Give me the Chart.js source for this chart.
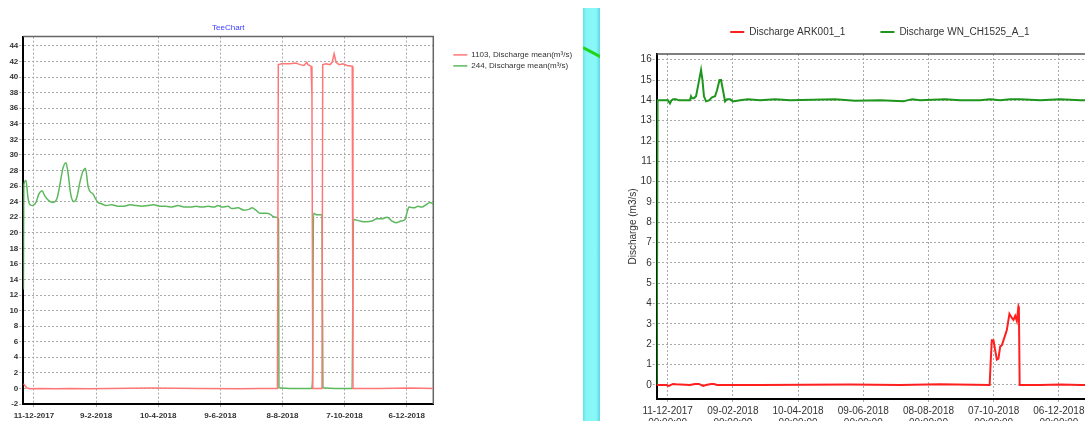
<!DOCTYPE html>
<html>
<head>
<meta charset="utf-8">
<title>Discharge</title>
<script src="https://cdn.jsdelivr.net/npm/chart.js@4.4.1/dist/chart.umd.min.js"></script>
<style>
  html, body { margin: 0; padding: 0; background: #fff; width: 1085px; height: 421px; overflow: hidden; }
  #teeChart { position: absolute; left: 0; top: 0; }
  #dischargeChart { position: absolute; left: 600px; top: -8px; }
  .strip {
    position: absolute; left: 583px; top: 8px; width: 17px; height: 413px; overflow: hidden;
    background: linear-gradient(to right, #62e2e8 0px, #86f5f6 3px, #8bf8f8 13px, #5ed6e0 17px);
  }
  .strip-line {
    position: absolute; left: 0; top: 38px; width: 24px; height: 3px; background: #1fd61f;
    transform-origin: 0 50%; transform: rotate(28deg);
  }
</style>
</head>
<body>
<canvas id="teeChart" width="583" height="421"></canvas>
<div class="strip"><div class="strip-line"></div></div>
<canvas id="dischargeChart" width="505" height="450"></canvas>
<script>
// x values are days counted from 11-12-2017
const tickDays = [0, 60, 120, 180, 240, 300, 360];
const teeTickLabels = ['11-12-2017', '9-2-2018', '10-4-2018', '9-6-2018', '8-8-2018', '7-10-2018', '6-12-2018'];
const dischargeTickLabels = ['11-12-2017', '09-02-2018', '10-04-2018', '09-06-2018', '08-08-2018', '07-10-2018', '06-12-2018'];
const tickTime = '00:00:00';

// station 1103
const s1103Days = [-10.2, -6.8, -3.9, 5.8, 20.3, 34.8, 54.1, 73.4, 112.0, 160.3, 199.0, 218.3, 235.2, 236.0, 239.5, 247.3, 253.1, 256.9, 260.8, 263.4, 264.7, 267.6, 268.5, 269.3, 278.2, 278.9, 282.2, 286.0, 288.0, 289.9, 291.8, 294.7, 298.5, 302.4, 307.4, 308.1, 334.2, 363.2, 385.7];
const s1103Values = [0.6, 0.05, -0.05, 0.0, -0.05, 0.0, -0.05, 0.0, 0.05, 0.0, -0.05, 0.0, 0.0, 41.6, 41.7, 41.7, 41.8, 41.6, 41.5, 41.9, 41.6, 41.4, 37.7, 0.0, 0.0, 41.6, 41.7, 41.6, 41.9, 43.0, 41.9, 41.6, 41.7, 41.5, 41.4, 0.0, 0.0, 0.05, 0.0];

// station 244
const s244Days = [-10.2, -9.8, -7.7, -5.8, -3.9, -1.0, 1.9, 4.8, 7.7, 10.6, 14.5, 18.4, 22.2, 25.1, 28.0, 30.9, 32.8, 35.7, 38.6, 41.5, 44.4, 47.3, 49.7, 52.2, 54.1, 57.0, 58.9, 61.8, 65.7, 69.5, 75.3, 81.1, 86.9, 92.7, 98.5, 104.3, 110.1, 115.9, 121.7, 127.5, 133.3, 139.1, 144.9, 150.7, 156.5, 162.3, 168.1, 173.9, 177.7, 181.6, 187.4, 191.2, 197.0, 202.8, 207.7, 210.6, 214.4, 218.3, 224.1, 227.9, 230.8, 233.7, 236.2, 236.6, 252.1, 268.0, 269.0, 270.0, 273.3, 277.2, 278.2, 279.1, 295.6, 307.2, 308.6, 314.9, 320.7, 326.5, 331.3, 336.1, 341.0, 345.8, 349.7, 354.5, 358.4, 360.3, 362.2, 367.0, 370.9, 374.8, 378.6, 382.5, 385.7];
const s244Values = [12.7, 26.2, 26.7, 24.5, 23.6, 23.5, 23.9, 25.0, 25.4, 24.7, 24.1, 23.9, 24.4, 26.2, 28.3, 29.0, 27.8, 24.8, 24.0, 24.6, 26.5, 27.9, 28.3, 26.0, 25.3, 25.0, 24.5, 23.9, 23.7, 23.5, 23.6, 23.4, 23.4, 23.6, 23.5, 23.4, 23.5, 23.6, 23.4, 23.4, 23.3, 23.5, 23.3, 23.3, 23.4, 23.3, 23.4, 23.3, 23.5, 23.3, 23.4, 23.1, 23.2, 22.9, 23.0, 23.2, 22.9, 22.5, 22.5, 22.4, 22.1, 22.0, 21.8, 0.1, 0.0, 0.0, 1.0, 22.5, 22.3, 22.3, 22.2, 0.1, 0.0, 0.0, 21.7, 21.5, 21.4, 21.5, 21.8, 21.8, 22.0, 21.5, 21.3, 21.5, 21.7, 22.6, 23.3, 23.2, 23.4, 23.3, 23.6, 23.9, 23.7];

// ARK001_1
const arkDays = [-10.1, -1.6, 1.2, 3.0, 4.9, 7.6, 20.5, 25.1, 28.8, 32.5, 35.3, 39.9, 42.6, 45.4, 85.0, 167.9, 213.9, 250.7, 296.3, 297.2, 298.3, 299.8, 301.4, 302.9, 304.4, 306.0, 307.5, 310.6, 312.1, 313.3, 314.5, 316.7, 318.2, 319.8, 321.3, 322.8, 323.2, 323.9, 342.8, 361.2, 380.0, 400.6];
const arkValues = [0.0, 0.0, -0.05, 0.0, 0.05, 0.03, 0.0, 0.05, 0.05, -0.05, 0.0, 0.05, 0.05, 0.0, 0.0, 0.02, 0.0, 0.03, 0.0, 1.1, 2.2, 2.2, 1.7, 1.25, 1.3, 1.9, 1.95, 2.45, 2.7, 3.1, 3.5, 3.3, 3.2, 3.4, 3.15, 3.86, 3.8, 0.0, 0.0, 0.02, 0.0, 0.0];

// WN_CH1525_A_1
const wnDays = [-10.1, -9.3, 0.3, 2.1, 3.5, 4.9, 7.6, 10.4, 20.5, 21.5, 22.4, 24.2, 26.1, 27.9, 30.7, 32.0, 33.4, 35.3, 38.0, 40.8, 43.6, 45.4, 47.7, 49.1, 50.9, 52.8, 54.6, 57.4, 60.1, 66.6, 73.9, 85.0, 98.8, 112.6, 154.0, 172.5, 195.5, 216.7, 220.4, 225.0, 232.3, 255.3, 269.1, 287.5, 296.7, 306.0, 315.2, 324.4, 342.8, 361.2, 379.6, 400.6];
const wnValues = [0.0, 14.0, 14.0, 13.85, 14.0, 14.05, 14.05, 14.0, 14.0, 14.2, 14.1, 14.1, 14.2, 14.7, 15.5, 15.0, 14.2, 13.95, 14.0, 14.15, 14.2, 14.5, 15.0, 15.0, 14.5, 13.95, 14.05, 14.05, 13.95, 14.0, 14.05, 14.0, 14.05, 14.0, 14.05, 13.98, 14.0, 13.95, 14.0, 14.05, 14.0, 14.05, 14.0, 14.0, 14.05, 14.0, 14.05, 14.05, 14.0, 14.05, 14.0, 14.0];

const pts = (xs, ys) => xs.map((x, i) => ({ x: x, y: ys[i] }));

Chart.defaults.font.family = '"Liberation Sans", Arial, sans-serif';
Chart.defaults.color = '#333';

// top (and optionally right) edge of the plot frame
const frameEdges = {
  id: 'frameEdges',
  beforeDatasetsDraw(chart, args, opts) {
    const { ctx, chartArea: a } = chart;
    ctx.save();
    ctx.strokeStyle = opts.color;
    ctx.lineWidth = opts.width;
    ctx.beginPath();
    ctx.moveTo(a.left, a.top);
    ctx.lineTo(a.right, a.top);
    if (opts.right) ctx.lineTo(a.right, a.bottom);
    ctx.stroke();
    ctx.restore();
  }
};

// small legend box sitting right of the plot
const sideLegend = {
  id: 'sideLegend',
  afterDraw(chart, args, opts) {
    const { ctx, chartArea: a } = chart;
    ctx.save();
    ctx.font = opts.font;
    ctx.textBaseline = 'middle';
    chart.data.datasets.forEach((ds, i) => {
      const x = a.right + opts.gap;
      const y = a.top + opts.top + i * opts.step;
      ctx.strokeStyle = ds.borderColor;
      ctx.lineWidth = 1.5;
      ctx.beginPath();
      ctx.moveTo(x, y);
      ctx.lineTo(x + 14, y);
      ctx.stroke();
      ctx.fillStyle = opts.color;
      ctx.fillText(ds.label, x + 18, y);
    });
    ctx.restore();
  }
};

// extra room between legend and plot
const legendGap = {
  id: 'legendGap',
  beforeInit(chart) {
    const fit = chart.legend.fit;
    chart.legend.fit = function () {
      fit.call(this);
      this.height += 7;
    };
  }
};

const setTicks = axis => { axis.ticks = tickDays.map(v => ({ value: v })); };

new Chart(document.getElementById('teeChart'), {
  type: 'line',
  data: {
    datasets: [{
      label: '1103, Discharge mean(m³/s)',
      data: pts(s1103Days, s1103Values),
      borderColor: '#ff7676',
      borderWidth: 1.5,
      pointRadius: 0
    }, {
      label: '244, Discharge mean(m³/s)',
      data: pts(s244Days, s244Values),
      borderColor: '#5cb85c',
      borderWidth: 1.5,
      pointRadius: 0,
      cubicInterpolationMode: 'monotone'
    }]
  },
  options: {
    responsive: false,
    animation: false,
    layout: { padding: { right: 149.7 } },
    plugins: {
      legend: { display: false },
      tooltip: { enabled: false },
      title: {
        display: true,
        text: 'TeeChart',
        color: '#3a3aff',
        fullSize: false,
        font: { size: 8, weight: 'normal' },
        padding: { top: 23, bottom: 4 }
      },
      frameEdges: { color: '#666', width: 1.5, right: true },
      sideLegend: { gap: 20, top: 18.3, step: 11, color: '#333', font: '8px "Liberation Sans", Arial, sans-serif' }
    },
    scales: {
      x: {
        type: 'linear',
        min: -10.3,
        max: 385.7,
        afterBuildTicks: setTicks,
        afterFit: s => { s.height = 17; },
        ticks: {
          autoSkip: false,
          maxRotation: 0,
          padding: 2.5,
          color: '#333',
          font: { size: 8, weight: 'bold' },
          callback: (v, i) => teeTickLabels[i]
        },
        grid: { color: '#aaa', tickLength: 4, tickColor: '#aaa', tickBorderDash: [2, 2] },
        border: { color: '#000', width: 2, dash: [2, 2] }
      },
      y: {
        min: -2,
        max: 45.2,
        afterFit: s => { s.width = 23.3; },
        ticks: {
          stepSize: 2,
          includeBounds: false,
          padding: 1,
          color: '#333',
          font: { size: 8, weight: 'bold' }
        },
        grid: { color: '#aaa', tickLength: 4, tickColor: '#aaa', tickBorderDash: [2, 2] },
        border: { color: '#000', width: 2, dash: [2, 2] }
      }
    }
  },
  plugins: [frameEdges, sideLegend]
});

new Chart(document.getElementById('dischargeChart'), {
  type: 'line',
  data: {
    datasets: [{
      label: 'Discharge ARK001_1',
      data: pts(arkDays, arkValues),
      borderColor: '#ff1f1f',
      backgroundColor: '#ff1f1f',
      borderWidth: 2,
      pointRadius: 0
    }, {
      label: 'Discharge WN_CH1525_A_1',
      data: pts(wnDays, wnValues),
      borderColor: '#1e961e',
      backgroundColor: '#1e961e',
      borderWidth: 2,
      pointRadius: 0
    }]
  },
  options: {
    responsive: false,
    animation: false,
    layout: { padding: { right: 2 } },
    plugins: {
      tooltip: { enabled: false },
      legend: {
        position: 'top',
        fullSize: false,
        labels: {
          usePointStyle: true,
          pointStyle: 'line',
          pointStyleWidth: 14,
          padding: 35,
          color: '#333',
          font: { size: 10 }
        }
      },
      frameEdges: { color: '#555', width: 1.5, right: false }
    },
    scales: {
      x: {
        type: 'linear',
        min: -10.1,
        max: 400.6,
        afterBuildTicks: setTicks,
        afterFit: s => { s.height = 43; },
        ticks: {
          autoSkip: false,
          maxRotation: 0,
          padding: 2.7,
          color: '#333',
          font: { size: 10 },
          callback: (v, i) => [dischargeTickLabels[i], tickTime]
        },
        grid: { color: '#aaa', tickLength: 4, tickColor: '#aaa', tickBorderDash: [2, 2] },
        border: { color: '#000', width: 2, dash: [2, 2] }
      },
      y: {
        min: -0.69,
        max: 16.28,
        afterFit: s => { s.width = 56.7; },
        title: {
          display: true,
          text: 'Discharge (m3/s)',
          color: '#333',
          font: { size: 10 },
          padding: { top: 27, bottom: 0 }
        },
        ticks: {
          stepSize: 1,
          includeBounds: false,
          padding: 1,
          color: '#333',
          font: { size: 10 }
        },
        grid: { color: '#aaa', tickLength: 4, tickColor: '#aaa', tickBorderDash: [2, 2] },
        border: { color: '#000', width: 2, dash: [2, 2] }
      }
    }
  },
  plugins: [frameEdges, legendGap]
});
</script>
</body>
</html>
